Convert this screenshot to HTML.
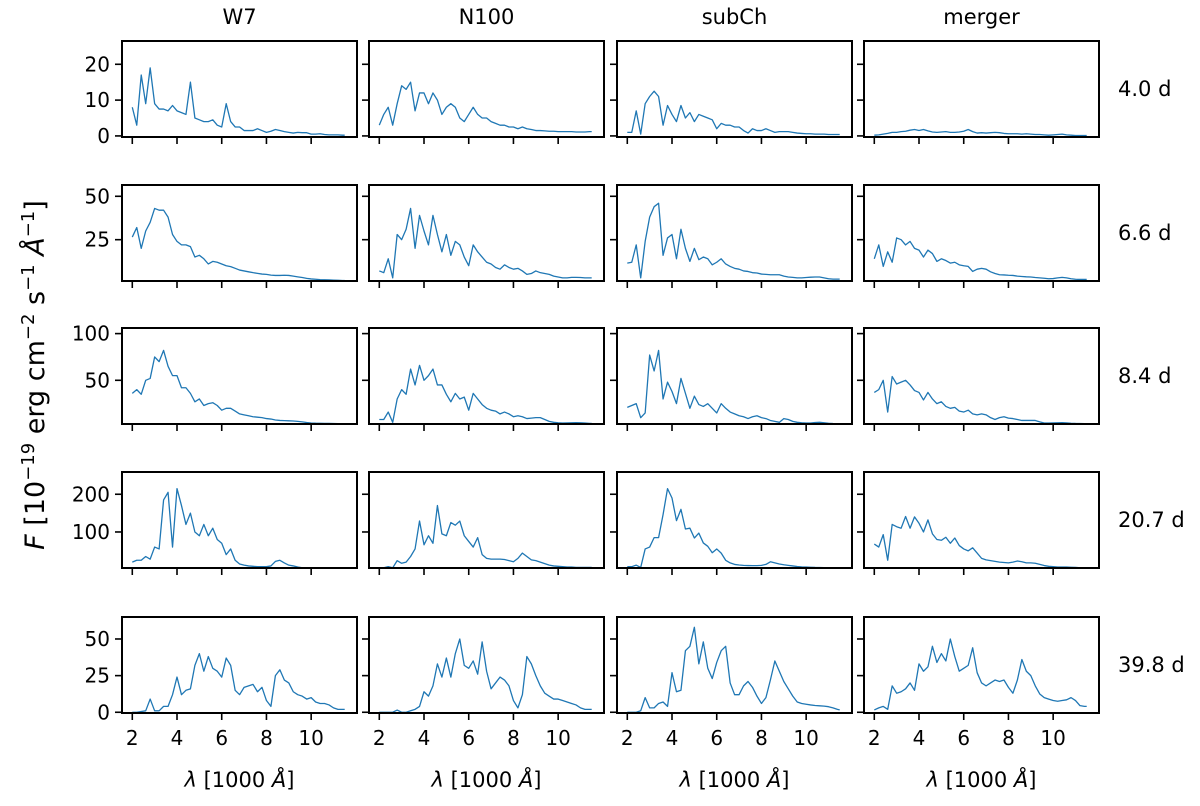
<!DOCTYPE html>
<html><head><meta charset="utf-8"><title>Spectra grid</title>
<style>
html,body{margin:0;padding:0;background:#fff;}
svg{display:block;font-family:"DejaVu Sans","Liberation Sans",sans-serif;}
</style></head>
<body>
<svg id="fig" width="1200" height="806" viewBox="0 0 1200 806" xmlns="http://www.w3.org/2000/svg">
<text transform="translate(44,375) rotate(-90)" text-anchor="middle" font-size="27"><tspan font-style="italic">F</tspan> [10<tspan baseline-shift="super" font-size="18">−19</tspan> erg cm<tspan baseline-shift="super" font-size="18">−2</tspan> s<tspan baseline-shift="super" font-size="18">−1</tspan> <tspan font-style="italic">Å</tspan><tspan baseline-shift="super" font-size="18">−1</tspan>]</text>
</svg>
<script>
const wl = [2.0,2.2,2.4,2.6,2.8,3.0,3.2,3.4,3.6,3.8,4.0,4.2,4.4,4.6,4.8,5.0,5.2,5.4,5.6,5.8,6.0,6.2,6.4,6.6,6.8,7.0,7.2,7.4,7.6,7.8,8.0,8.2,8.4,8.6,8.8,9.0,9.2,9.4,9.6,9.8,10.0,10.2,10.4,10.6,10.8,11.0,11.2,11.4,11.5];
const models = ["W7","N100","subCh","merger"];
const epochs = ["4.0 d","6.6 d","8.4 d","20.7 d","39.8 d"];
const xTicks = [2,4,6,8,10];
const yTicksR1 = [0,10,20];
const yTicksR2 = [25,50];
const yTicksR3 = [50,100];
const yTicksR4 = [100,200];
const yTicksR5 = [0,25,50];

const W7_4 = [8,3,17,9,19,9,7.5,7.5,7,8.5,7,6.5,6,15,5,4.5,4,4,4.5,3,2.5,9,4,2.5,2.5,1.5,1.5,1.5,2,1.5,1,1.3,1.8,1.5,1.2,1,0.8,1,0.9,0.9,0.5,0.5,0.6,0.4,0.3,0.3,0.3,0.2,0.2];
const N100_4 = [3,6,8,3,9,14,13,15,7,12,12,9,12,10,6,8,9,8,5,4,6,8,6,5,5,4,3.5,3,3,2.5,2.5,2,2.5,2,1.8,1.5,1.5,1.4,1.3,1.3,1.2,1.2,1.2,1.2,1.1,1.1,1.1,1.2,1.2];
const subCh_4 = [1,1,7,0.5,9,11,12.5,11,3,8.5,6,4,8.5,5,6.5,4,6,5.5,5,4.5,2,3.5,3,3,2.5,2.5,1.5,0.8,2,1.5,1.5,2,1.5,1,1.2,1.2,1.2,1,0.8,0.7,0.6,0.6,0.5,0.5,0.5,0.4,0.4,0.4,0.4];
const merger_4 = [0.2,0.3,0.5,0.7,1,1,1.2,1.3,1.6,1.8,1.5,1.8,1.4,1.1,1,1.1,1.2,1,1,1.1,1.3,1.8,1.2,0.8,0.9,0.8,0.9,1,0.9,0.7,0.6,0.6,0.6,0.5,0.6,0.5,0.4,0.4,0.3,0.2,0.3,0.4,0.5,0.3,0.2,0.1,0.1,0.1,0.1];

const W7_6 = [26.5,32,20,30,35,43,42,42,38,28,24,22,22,21,15,16,14,11,12.5,12,11,10,9.5,8.5,7.5,7,6.5,6,5.6,5.2,5,4.6,4.4,4.4,4.5,4.4,4,3.6,3.2,2.7,2.4,2.2,2,1.9,1.8,1.7,1.6,1.5,1.5];
const N100_6 = [7,6,14,3,28,25,31,43,20,39,30,22,39,28,18,28,16,24,22,15,10,22,18,15,12,11,9,8,10.5,9,8,8.5,7,5,5.5,7,6,5.5,5,4,3.5,3,3,3.3,3.3,3.2,3,3,3];
const subCh_6 = [11.5,12,22,3,24,38,44,46,16,26,28,14,31,20,12.5,20,13.5,15,14,10.5,12,14,11,9.6,8.5,8,7,6.7,6,5.8,5.2,5,4.8,4.8,4.8,4,3.5,3.3,3,3,3.2,3.4,3.5,3.5,3,2.5,2.3,2.3,2.3];
const merger_6 = [14,22,9.6,18,12,26,25,22,24,20,19,15,19,17,12.5,14,13,11.5,12,10.5,10,9.6,6.7,8,8.5,8,6.5,5.5,4.8,4.7,4.5,4.4,4,3.8,3.6,3.5,3.2,3,2.8,2.5,2.6,3,3.3,3,2.5,2.2,2.1,2.1,2.1];

const W7_8 = [36,40,35,50,52,75,70,82,65,55,55,42,42,36,27,30,23,25,26,23,18,20,20,17,14,13,12,11,10.5,10,9,8.5,7.5,7,6.8,6.6,6.4,6,5.5,4.8,4.3,4.1,4,3.9,3.8,3.7,3.6,3.6,3.6];
const N100_8 = [8,8,16,5,30,40,35,62,45,66,50,55,62,45,45,35,27,36,30,32,18,36,30,24,20,18,17,14,16,14,11,12,11,9,9.5,10,10,8,6,5,4.5,4.3,4.4,4.5,4.6,4.5,4.2,3.9,3.9];
const subCh_8 = [21,23,25,10,15,77,60,82,30,48,38,25,52,36,20,33,24,22,25,20,15,25,20,16,14,12,11,9,11,12,10,9,7,6,5,9,8,6,5,4.5,4.3,4.3,4.8,5,4.5,4,3.7,3.6,3.6];
const merger_8 = [37,40,50,16,54,46,48,50,45,39,37,29,37,30,25,27,22,20,21,17,16,18,14,13,14,13,10,8,10,11,9.5,9,8,7,7,7,7,5.5,4.3,4.3,4.4,4.5,4.6,4.4,4,3.8,3.7,3.6,3.6];

const W7_20 = [20,25,25,35,28,60,55,185,205,60,215,170,120,150,100,90,120,90,110,80,70,40,55,25,15,12,10,9,8,8,8,10,22,25,18,12,10,7,5,4,3,2,2,1.5,1.5,1,1,1,1];
const N100_20 = [4,5,8,5,24,17,20,35,55,129,66,90,70,170,95,90,125,118,129,90,75,60,85,40,30,28,28,28,27,24,21,30,44,35,26,24,20,16,12,10,9,8,7,7,6,6,6,6,6];
const subCh_20 = [8,8,12,6,55,60,85,85,146,215,190,130,160,108,110,84,97,71,62,45,55,44,25,18,14,12.5,11.5,11,10.7,10.7,11.5,14,21,18,15,13,11.5,10,8.5,7.5,7,6.5,6,5.8,5.5,5.3,5,5,5];
const merger_20 = [68,60,93,25,120,114,110,141,110,140,123,100,132,95,80,78,86,70,84,64,55,50,58,44,30,26,24,22,20,19,18,20,23,21,18,18,17,14,11,9,8,7,7,7,6.5,6,5,4,3.6];

const W7_39 = [0,0,0.5,1,9,1,1,4,4,12,24,12,15,16,32,40,28,38,30,28,24,37,32,15,12,17,18,19,14,17,8,4,25,29,22,20,14,12,11,9,10,7,6,6,5,3,2,2,2];
const N100_39 = [0,0,0,0,1.5,0,0,1,2,4,14,11,18,33,24,37,24,40,50,32,30,35,26,48,28,16,20,24,22,18,8,3,12,38,33,25,18,13,11,9,9,8,7,6,5,3,2,2,2];
const subCh_39 = [0,0,0,1,10,3,3,6,7,4,27,14,15,42,45,58,33,48,30,23,34,42,45,20,12,12,18,21,17,11,6,10,22,35,28,21,16,11,7,6,5.5,5,4.6,4.4,4.2,3.8,3,2,1.6];
const merger_39 = [1.6,3,4,2,18,13,14,16,20,15,33,28,31,45,34,40,35,50,38,28,30,32,44,27,20,18,20,22,21,22,17,13,22,36,28,25,18,12.5,10,9,8,7.5,8,8.5,10,8,4.5,4,4];

const fluxGrid = [
  [W7_4, N100_4, subCh_4, merger_4],
  [W7_6, N100_6, subCh_6, merger_6],
  [W7_8, N100_8, subCh_8, merger_8],
  [W7_20, N100_20, subCh_20, merger_20],
  [W7_39, N100_39, subCh_39, merger_39]
];
const yTickSets = [yTicksR1, yTicksR2, yTicksR3, yTicksR4, yTicksR5];

// layout (not data)
const colLeft = [122, 369, 617, 864];
const panelW = 235;
const rowTop = [41, 185, 328, 472, 617];
const panelH = 96;
const xMin = 1.54, xMax = 12.05;
const yLims = [[-0.3, 26.5], [1.2, 56.5], [3.2, 106], [4.5, 259], [-0.5, 65]];

const NS = "http://www.w3.org/2000/svg";
const svg = document.getElementById("fig");
function mk(tag, attrs, parent) {
  const e = document.createElementNS(NS, tag);
  for (const k in attrs) e.setAttribute(k, attrs[k]);
  (parent || svg).appendChild(e);
  return e;
}
const defs = mk("defs", {});

for (let r = 0; r < 5; r++) {
  const [y0, y1] = yLims[r];
  const top = rowTop[r], bot = top + panelH;
  const yS = v => bot - (v - y0) / (y1 - y0) * panelH;
  for (let c = 0; c < 4; c++) {
    const left = colLeft[c];
    const xS = v => left + (v - xMin) / (xMax - xMin) * panelW;
    const g = mk("g", {});
    
    
    const cp = mk("clipPath", { id: "cp" + r + "_" + c }, defs);
    mk("rect", { x: left, y: top, width: panelW, height: panelH }, cp);
    const d = wl.map((w, i) => (i ? "L" : "M") + xS(w).toFixed(2) + "," + yS(fluxGrid[r][c][i]).toFixed(2)).join("");
    const line = mk("path", { d: d, fill: "none", stroke: "#1f77b4", "stroke-width": 1.3, "stroke-linejoin": "round", "clip-path": "url(#cp" + r + "_" + c + ")" }, g);
    
    
    const fr = mk("rect", { x: left, y: top, width: panelW, height: panelH, fill: "none", stroke: "#000", "stroke-width": 2 }, g);
    
    
    xTicks.forEach(t => {
      const x = xS(t);
      mk("line", { x1: x, x2: x, y1: bot, y2: bot + 7, stroke: "#000", "stroke-width": 1.6 }, g);
      if (r === 4) {
        const tl = mk("text", { x: x, y: bot + 32, "text-anchor": "middle", "font-size": 20 }, g);
        
        
        tl.textContent = String(t);
      }
    });
    yTickSets[r].forEach(t => {
      const y = yS(t);
      if (y < top - 0.5 || y > bot + 0.5) return;
      mk("line", { x1: left - 7, x2: left, y1: y, y2: y, stroke: "#000", "stroke-width": 1.6 }, g);
      if (c === 0) {
        const tl = mk("text", { x: left - 12, y: y + 7, "text-anchor": "end", "font-size": 20 }, g);
        
        
        tl.textContent = String(t);
      }
    });
  }
  const el = mk("text", { x: 1118, y: rowTop[r] + panelH / 2 + 7, "font-size": 21 });
  
  
  el.textContent = epochs[r];
}
for (let c = 0; c < 4; c++) {
  const cx = colLeft[c] + panelW / 2;
  const t = mk("text", { x: cx, y: 24, "text-anchor": "middle", "font-size": 21 });
  
  
  t.textContent = models[c];
  const xl = mk("text", { x: cx, y: 787, "text-anchor": "middle", "font-size": 21 });
  
  
  const a = mk("tspan", { "font-style": "italic" }, xl); a.textContent = "λ";
  const b = mk("tspan", {}, xl); b.textContent = " [1000 ";
  const cc = mk("tspan", { "font-style": "italic" }, xl); cc.textContent = "Å";
  const dd = mk("tspan", {}, xl); dd.textContent = "]";
}
</script>
</body></html>
